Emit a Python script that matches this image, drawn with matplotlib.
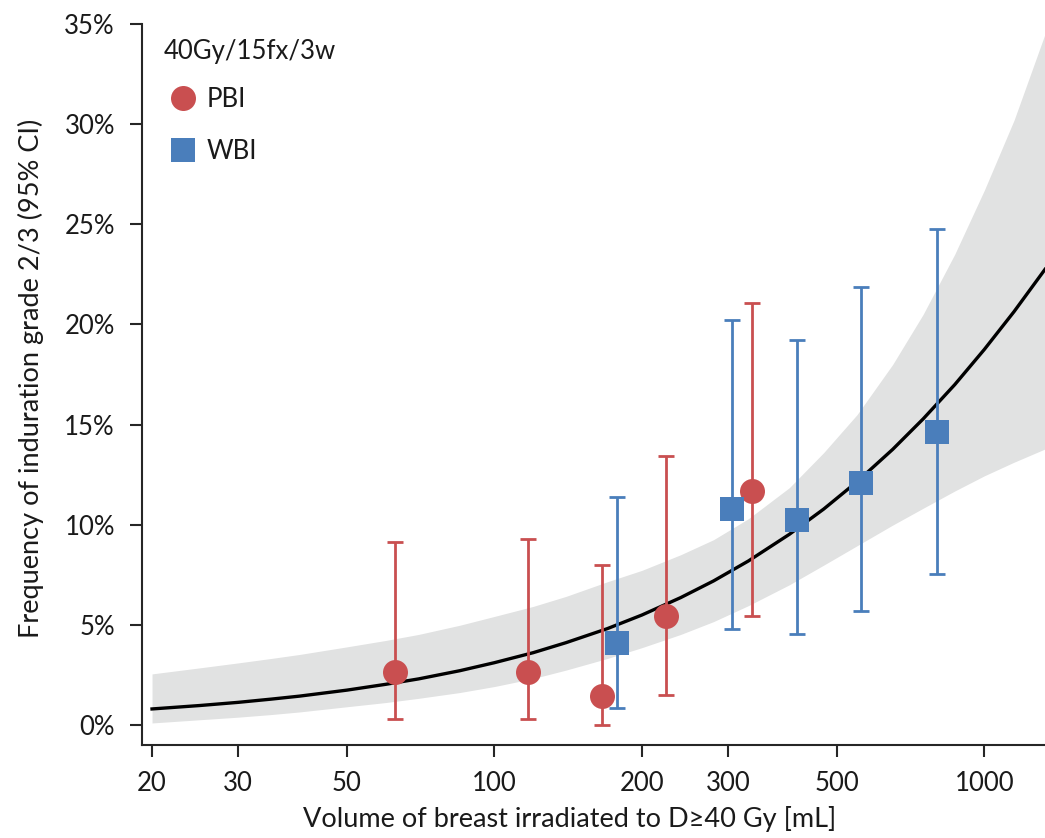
import matplotlib
matplotlib.use("Agg")
import matplotlib.pyplot as plt
from matplotlib.lines import Line2D
from matplotlib.ticker import FixedLocator, FixedFormatter, NullLocator

plt.rcParams['font.family'] = ['Lato', 'DejaVu Sans']

# ---- data ----
# fitted curve and its 95% CI band (percent), sampled along volume
curve_vol = [20, 25, 30, 35, 40, 50, 60, 70, 85, 100, 120, 140, 170, 200, 240, 280,
             330, 400, 470, 550, 650, 750, 870, 1000, 1150, 1330]
curve_pct = [0.80, 0.97, 1.13, 1.29, 1.44, 1.74, 2.03, 2.30, 2.71, 3.11, 3.61, 4.11,
             4.81, 5.49, 6.36, 7.19, 8.19, 9.52, 10.78, 12.15, 13.76, 15.28, 16.99,
             18.75, 20.64, 22.75]
band_upper = [2.55, 2.85, 3.10, 3.32, 3.52, 3.90, 4.22, 4.52, 4.98, 5.42, 5.92, 6.42,
              7.15, 7.72, 8.50, 9.25, 10.30, 11.85, 13.60, 15.50, 18.00, 20.50, 23.50,
              26.70, 30.20, 34.50]
band_lower = [0.10, 0.26, 0.39, 0.52, 0.65, 0.91, 1.12, 1.33, 1.62, 1.92, 2.32, 2.74,
              3.32, 3.86, 4.52, 5.16, 5.96, 7.00, 7.98, 8.95, 9.98, 10.82, 11.68,
              12.44, 13.12, 13.78]

# PBI group
pbi_vol = [62.7, 117, 166, 224, 336]
pbi_pct = [2.65, 2.65, 1.45, 5.45, 11.70]
pbi_lo = [0.30, 0.30, 0.00, 1.50, 5.45]
pbi_hi = [9.15, 9.30, 8.00, 13.45, 21.05]

# WBI group
wbi_vol = [178, 305, 414, 560, 801]
wbi_pct = [4.07, 10.80, 10.25, 12.10, 14.65]
wbi_lo = [0.87, 4.80, 4.55, 5.70, 7.55]
wbi_hi = [11.37, 20.20, 19.20, 21.85, 24.75]

x_ticks = [20, 30, 50, 100, 200, 300, 500, 1000]
x_tick_labels = ['20', '30', '50', '100', '200', '300', '500', '1000']
y_ticks = [0, 5, 10, 15, 20, 25, 30, 35]
y_tick_labels = ['0%', '5%', '10%', '15%', '20%', '25%', '30%', '35%']

legend_title = '40Gy/15fx/3w'
labels = ['PBI', 'WBI']
xlabel = 'Volume of breast irradiated to D\u226540 Gy [mL]'
ylabel = 'Frequency of induration grade 2/3 (95% CI)'

# ---- styles ----
RED = '#C94F50'
BLUE = '#4A7EBB'
BAND = '#E1E2E2'
AXC = '#262626'
TXT = '#1a1a1a'
FS_TICK = 18.5
FS_LAB = 19.5
FS_LEG = 18.5

fig = plt.figure(figsize=(10.45, 8.38), dpi=100)
ax = fig.add_axes([142 / 1045, 1 - 745 / 838, 1 - 142 / 1045, (745 - 24) / 838])

ax.fill_between(curve_vol, band_lower, band_upper, color=BAND, lw=0, zorder=1)
ax.plot(curve_vol, curve_pct, color='black', lw=2.4, zorder=2)


def yerr(v, lo, hi):
    return [[a - b for a, b in zip(v, lo)], [b - a for a, b in zip(v, hi)]]


ax.errorbar(pbi_vol, pbi_pct, yerr=yerr(pbi_pct, pbi_lo, pbi_hi), fmt='none',
            ecolor=RED, elinewidth=2.0, capsize=5.8, capthick=2.0, zorder=3)
ax.errorbar(wbi_vol, wbi_pct, yerr=yerr(wbi_pct, wbi_lo, wbi_hi), fmt='none',
            ecolor=BLUE, elinewidth=2.0, capsize=5.8, capthick=2.0, zorder=3)
ax.plot(pbi_vol, pbi_pct, 'o', color=RED, markersize=18, markeredgewidth=0, zorder=4)
ax.plot(wbi_vol, wbi_pct, 's', color=BLUE, markersize=17, markeredgewidth=0, zorder=4)

ax.set_xscale('log')
ax.set_xlim(19.08, 1330)
ax.set_ylim(-1.0, 35)

ax.xaxis.set_major_locator(FixedLocator(x_ticks))
ax.xaxis.set_major_formatter(FixedFormatter(x_tick_labels))
ax.xaxis.set_minor_locator(NullLocator())
ax.yaxis.set_major_locator(FixedLocator(y_ticks))
ax.yaxis.set_major_formatter(FixedFormatter(y_tick_labels))

for s in ['top', 'right']:
    ax.spines[s].set_visible(False)
for s in ['left', 'bottom']:
    ax.spines[s].set_linewidth(1.5)
    ax.spines[s].set_color(AXC)

ax.tick_params(axis='both', direction='out', length=8.5, width=1.5, color=AXC,
               labelsize=FS_TICK, labelcolor=TXT)
ax.tick_params(axis='y', pad=11)
ax.tick_params(axis='x', pad=10)

ax.set_xlabel(xlabel, fontsize=FS_LAB, color=TXT)
ax.set_ylabel(ylabel, fontsize=FS_LAB, color=TXT)
ax.xaxis.set_label_coords(0.474, -0.085)
ax.yaxis.set_label_coords(-0.108, 0.508)

handles = [Line2D([], [], marker='o', color=RED, ls='none', markersize=18, markeredgewidth=0),
           Line2D([], [], marker='s', color=BLUE, ls='none', markersize=17, markeredgewidth=0)]
leg = ax.legend(handles, labels, title=legend_title, loc='upper left',
                bbox_to_anchor=(0.013, 0.993), frameon=False, fontsize=FS_LEG,
                title_fontsize=FS_LEG, alignment='left', handletextpad=0.15,
                labelspacing=1.05, borderaxespad=0, handlelength=1.5)
leg._legend_box.sep = 16
for t in leg.get_texts():
    t.set_color(TXT)
leg.get_title().set_color(TXT)

fig.savefig('out.png', dpi=100)
